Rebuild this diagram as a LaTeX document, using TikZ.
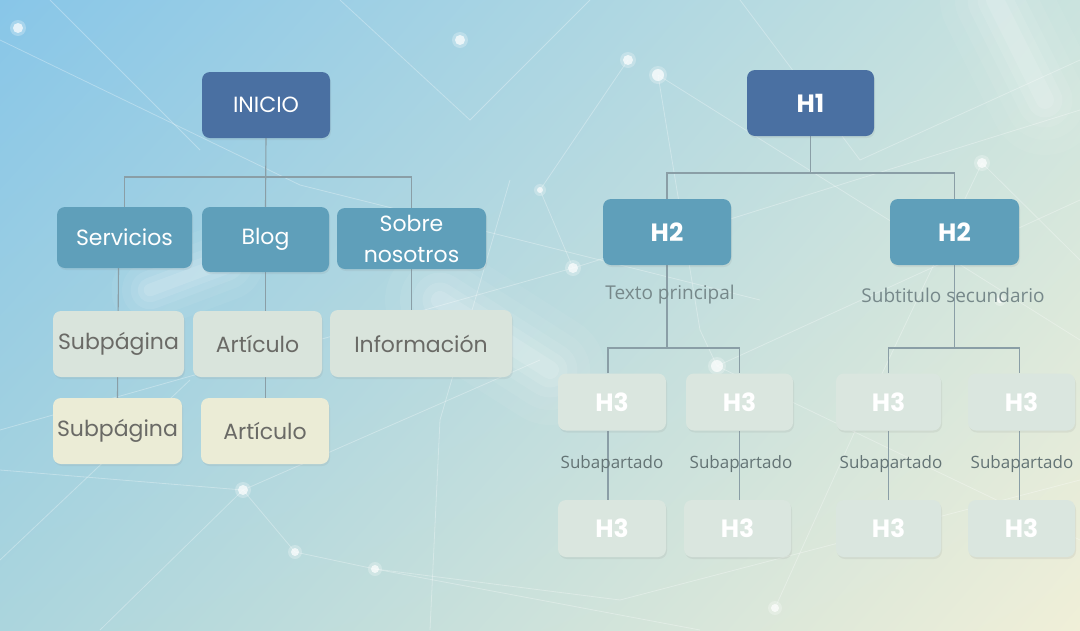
\documentclass[tikz,border=0pt]{standalone}
\usepackage{fontspec}
\setmainfont{Poppins}
\newfontfamily\labfont{Open Sans}
\usetikzlibrary{shadows,shadings}
\definecolor{cdark}{HTML}{4A70A2}
\definecolor{cmid}{HTML}{5F9FBA}
\definecolor{clight}{HTML}{D9E4DC}
\definecolor{ccream}{HTML}{EBECD6}
\definecolor{cpale}{HTML}{DAE6DF}
\definecolor{ctext}{HTML}{6A6A66}
\definecolor{clab}{HTML}{76888A}
\definecolor{cline}{HTML}{8A9EA6}
\definecolor{bgul}{HTML}{88C6E8}
\definecolor{bgur}{HTML}{CAE3DE}
\definecolor{bgll}{HTML}{ABD5DD}
\definecolor{bglr}{HTML}{F0EFD8}
\pgfdeclarelayer{bg}\pgfdeclarelayer{conn}
\pgfsetlayers{bg,conn,main}
\tikzset{
  box/.style={rounded corners=8pt, inner sep=0pt, align=center,
    drop shadow={opacity=0.12, shadow xshift=1pt, shadow yshift=-2pt}},
  darkbox/.style={box, fill=cdark, text=white},
  midbox/.style={box, fill=cmid, text=white},
  lightbox/.style={box, fill=clight, text=ctext},
  creambox/.style={box, fill=ccream, text=ctext},
  h3box/.style={box, fill=cpale, text=white, minimum height=57pt, font=\fontsize{25}{28}\selectfont\bfseries},
  lefttxt/.style={font=\fontsize{22}{31}\selectfont},
  hfont/.style={font=\fontsize{25}{28}\selectfont\bfseries},
  lab/.style={text=clab, inner sep=1pt, fill=none},
  conn/.style={draw=cline, line width=1.1pt},
  net/.style={draw=white, opacity=0.3, line width=0.8pt},
  dot/.style={fill=white, opacity=0.7}
}
\begin{document}
\begin{tikzpicture}[x=1pt,y=-1pt]
\useasboundingbox (0,0) rectangle (1080,630);
% ---------- nodes ----------
\node[darkbox, lefttxt, minimum width=128pt, minimum height=66pt] (inicio) at (266,105) {INICIO};
\node[midbox, lefttxt, minimum width=135pt, minimum height=61pt] (serv) at (124.5,237.5) {Servicios};
\node[midbox, lefttxt, minimum width=127pt, minimum height=65pt] (blog) at (265.5,239.5) {Blog};
\node[midbox, lefttxt, minimum width=149pt, minimum height=61pt] (sobre) at (411.5,238.5) {Sobre\\nosotros};
\node[lightbox, lefttxt, minimum width=131pt, minimum height=66pt] (sub1) at (118.5,344) {Subpágina};
\node[lightbox, lefttxt, minimum width=129pt, minimum height=66pt] (art1) at (257.5,344) {Artículo};
\node[lightbox, lefttxt, minimum width=182pt, minimum height=67pt] (info) at (421,343.5) {Información};
\node[creambox, lefttxt, minimum width=129pt, minimum height=66pt] (sub2) at (117.5,431) {Subpágina};
\node[creambox, lefttxt, minimum width=128pt, minimum height=66pt] (art2) at (265,431) {Artículo};

\node[darkbox, hfont, minimum width=127pt, minimum height=66pt] (h1) at (810.5,103) {H1};
\node[midbox, hfont, minimum width=128pt, minimum height=66pt] (h2a) at (667,232) {H2};
\node[midbox, hfont, minimum width=129pt, minimum height=66pt] (h2b) at (954.5,232) {H2};
\node[lab, font=\labfont\fontsize{19}{22}\selectfont] (tp) at (670,295) {Texto principal};
\node[lab, font=\labfont\fontsize{19}{22}\selectfont] (ss) at (953,295) {Subtitulo secundario};

\node[h3box, minimum width=108pt] (a1) at (612,402) {H3};
\node[h3box, minimum width=107pt] (b1) at (739.5,402) {H3};
\node[h3box, minimum width=105pt] (c1) at (888.5,402) {H3};
\node[h3box, minimum width=107pt] (d1) at (1021.5,402) {H3};
\node[h3box, minimum width=108pt] (a2) at (612,528.5) {H3};
\node[h3box, minimum width=107pt] (b2) at (737.5,528.5) {H3};
\node[h3box, minimum width=105pt] (c2) at (888.5,528.5) {H3};
\node[h3box, minimum width=107pt] (d2) at (1021.5,528.5) {H3};
\foreach \n/\x in {sa/612, sb/741, sc/891, sd/1022}{
  \node[lab, text=clab!85!black, font=\labfont\fontsize{17}{19}\selectfont] (\n) at (\x,464) {Subapartado};
}

% ---------- background ----------
\begin{pgfonlayer}{bg}
\fill[upper left=bgul, upper right=bgur, lower left=bgll, lower right=bglr]
  (0,0) rectangle (1080,630);
% soft glows
\foreach \w/\o in {110/0.05,80/0.06,55/0.08,35/0.1,18/0.12}{
  \draw[white, line width=\w pt, line cap=round, opacity=\o] (995,0) -- (1045,100);
  \draw[white, line width=\w pt, line cap=round, opacity=\o] (440,300) -- (550,370);
  \draw[white, line width=0.7*\w pt, line cap=round, opacity=\o] (150,290) -- (225,262);
}
% network
\draw[net] (0,40) -- (300,185) -- (760,300);
\draw[net] (50,0) -- (200,150);
\draw[net] (340,0) -- (470,120) -- (590,0);
\draw[net] (658,75) -- (1080,340);
\draw[net] (628,60) -- (540,190) -- (573,268) -- (0,430);
\draw[net] (658,75) -- (700,330) -- (717,366) -- (1080,200);
\draw[net] (573,268) -- (1080,110);
\draw[net] (982,163) -- (860,420) -- (775,608);
\draw[net] (982,163) -- (1080,260);
\draw[net] (717,366) -- (1080,540);
\draw[net] (0,470) -- (243,490) -- (540,360);
\draw[net] (243,490) -- (295,552) -- (375,569) -- (700,630);
\draw[net] (100,630) -- (243,490);
\draw[net] (375,569) -- (620,600) -- (1080,480);
\draw[net] (510,180) -- (440,420) -- (430,630);
\draw[net] (0,560) -- (190,380);
\draw[net] (740,0) -- (860,160) -- (1080,60);
\foreach \p/\r in {(18,28)/5, (460,40)/5, (628,60)/5, (658,75)/6, (573,268)/5, (717,366)/6,
  (982,163)/5, (243,490)/5, (295,552)/4, (375,569)/4, (775,608)/4, (1000,300)/3, (540,190)/3}{
  \fill[white, opacity=0.25] \p circle (\r+3);
  \fill[dot] \p circle (\r);
}
\end{pgfonlayer}

% ---------- connectors ----------
\begin{pgfonlayer}{conn}
\coordinate (busL) at (266,177);
\draw[conn] (inicio.south) -- (blog.north);
\draw[conn] (serv.north) |- (busL) -| (sobre.north);
\draw[conn] (sub1.north |- serv.south) -- (sub2.north);
\draw[conn] (blog.south) -- (blog.south |- art2.north);
\draw[conn] (sobre.south) -- (sobre.south |- info.north);

\coordinate (busR) at (810.5,173);
\draw[conn] (h1.south) -- (busR);
\draw[conn] (h2a.north) |- (busR) -| (h2b.north);
\coordinate (busA) at (667,348);
\coordinate (busB) at (954.5,348);
\draw[conn] (h2a.south) -- (busA);
\draw[conn] (h2b.south) -- (busB);
\draw[conn] ([xshift=-4pt]a1.north) |- (busA) -| (b1.north);
\draw[conn] (c1.north) |- (busB) -| ([xshift=-2pt]d1.north);
\draw[conn] ([xshift=-4pt]a1.south) -- ([xshift=-4pt]a1.south |- a2.north);
\draw[conn] (b1.south) -- (b1.south |- b2.north);
\draw[conn] (c1.south) -- (c1.south |- c2.north);
\draw[conn] ([xshift=-2pt]d1.south) -- ([xshift=-2pt]d1.south |- d2.north);
\end{pgfonlayer}
\end{tikzpicture}
\end{document}
